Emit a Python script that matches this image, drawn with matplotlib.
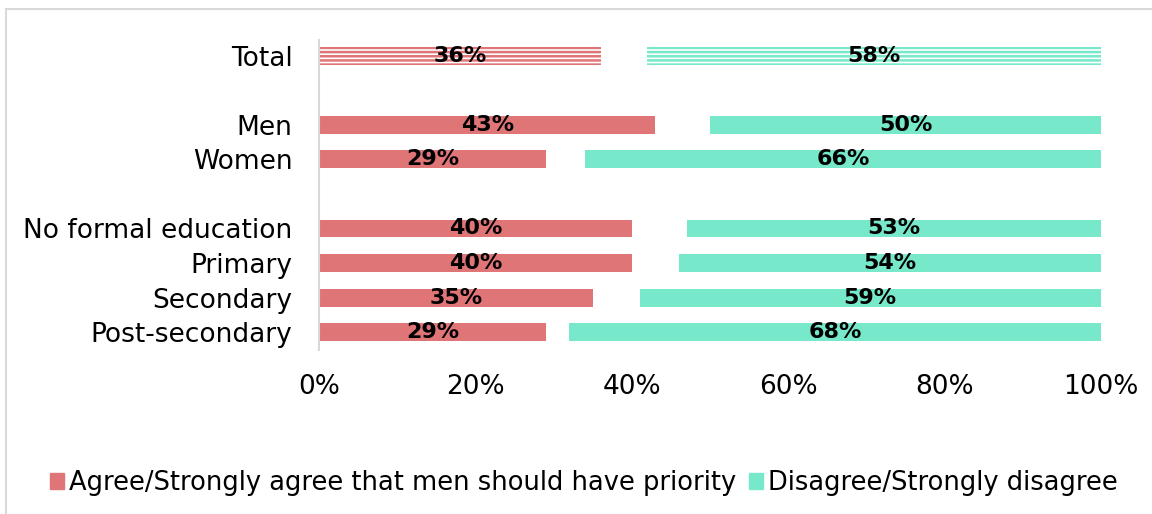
import numpy as np
import matplotlib.pyplot as plt
from matplotlib.patches import Rectangle

plt.rcParams['font.family'] = ['DejaVu Sans']
plt.rcParams['hatch.linewidth'] = 1.8

# survey groups, top to bottom (None = blank spacer row)
groups = ['Total', None, 'Men', 'Women', None,
          'No formal education', 'Primary', 'Secondary', 'Post-secondary']
agree = [36, None, 43, 29, None, 40, 40, 35, 29]
disagree = [58, None, 50, 66, None, 53, 54, 59, 68]

legend_agree = 'Agree/Strongly agree that men should have priority'
legend_disagree = 'Disagree/Strongly disagree'

red = '#E07577'
teal = '#78E8CA'

fig = plt.figure(figsize=(11.52, 5.14), dpi=100)
ax = fig.add_axes([319 / 1152, 1 - 350 / 514, 782 / 1152, 310 / 514])

rows = [i for i, g in enumerate(groups) if g is not None]
h = 0.52
for i in rows:
    a = agree[i]
    d = disagree[i]
    if groups[i] == 'Total':
        ax.barh(i, a, height=h, left=0, facecolor='white', edgecolor=red,
                hatch='----', linewidth=0)
        ax.barh(i, d, height=h, left=100 - d, facecolor='white', edgecolor=teal,
                hatch='----', linewidth=0)
    else:
        ax.barh(i, a, height=h, left=0, color=red)
        ax.barh(i, d, height=h, left=100 - d, color=teal)
    ax.text(a / 2, i, f'{a}%', ha='center', va='center', fontsize=16,
            fontweight='bold', color='black')
    ax.text(100 - d / 2, i, f'{d}%', ha='center', va='center', fontsize=16,
            fontweight='bold', color='black')

ax.set_xlim(0, 100)
ax.set_ylim(8.52, -0.46)
ax.set_yticks(rows)
ax.set_yticklabels([groups[i] for i in rows], fontsize=19)
ax.set_xticks(np.arange(0, 101, 20))
ax.set_xticklabels([f'{v}%' for v in range(0, 101, 20)], fontsize=19)
ax.tick_params(axis='both', length=0)
ax.tick_params(axis='x', pad=17)
ax.tick_params(axis='y', pad=19)
for s in ['top', 'right', 'bottom']:
    ax.spines[s].set_visible(False)
ax.spines['left'].set_color('#D9D9D9')
ax.spines['left'].set_linewidth(1.5)

# legend handles
h1 = Rectangle((0, 0), 1, 1, color=red)
h2 = Rectangle((0, 0), 1, 1, color=teal)
fig.legend([h1, h2], [legend_agree, legend_disagree], loc='center',
           bbox_to_anchor=(584 / 1152, 1 - 483 / 514), ncol=2, frameon=False,
           fontsize=18.5, handlelength=0.55, handleheight=0.55,
           handletextpad=0.2, columnspacing=0.5)

# outer chart frame
fig.patches.append(Rectangle((6 / 1152, -0.1), 1.2, 1 - 9 / 514 + 0.1,
                             transform=fig.transFigure, fill=False,
                             edgecolor='#D9D9D9', linewidth=1.5))

fig.savefig('out.png', dpi=100)
